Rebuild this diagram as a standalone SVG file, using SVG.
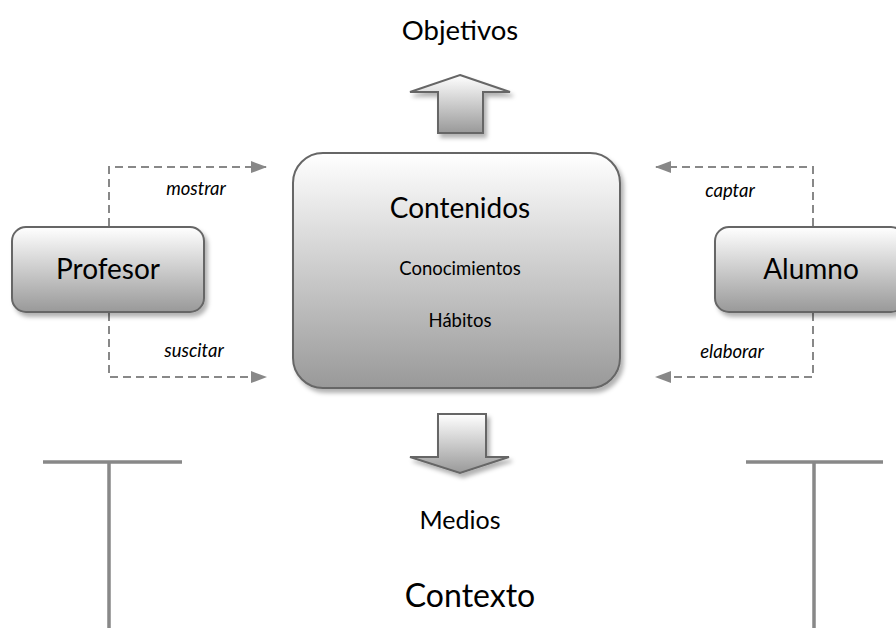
<svg xmlns="http://www.w3.org/2000/svg" width="896" height="628" viewBox="0 0 896 628">
<defs>
<linearGradient id="g" x1="0" y1="0" x2="0" y2="1">
<stop offset="0" stop-color="#ffffff"/>
<stop offset="1" stop-color="#999999"/>
</linearGradient>
<filter id="sh" x="-10%" y="-10%" width="130%" height="130%">
<feDropShadow dx="3" dy="4" stdDeviation="2" flood-color="#000" flood-opacity="0.3"/>
</filter>
<marker id="ah" viewBox="0 0 16 12" refX="15" refY="6" markerWidth="16" markerHeight="12" markerUnits="userSpaceOnUse" orient="auto">
<path d="M0,0 L16,6 L0,12 Z" fill="#888"/>
</marker>
<style>
.box{fill:url(#g);stroke:#666;stroke-width:2;filter:url(#sh)}
.big{font-family:Lato,"Liberation Sans",sans-serif;fill:#000;text-anchor:middle}
.lbl{font-family:Lato,"Liberation Sans",sans-serif;font-style:italic;font-size:18.5px;fill:#000;text-anchor:middle}
.dash{fill:none;stroke:#888;stroke-width:2;stroke-dasharray:8,5}
.t{stroke:#888;stroke-width:3.5;fill:none}
</style>
</defs>
<rect width="896" height="628" fill="#fff"/>
<g id="connectors">
<path class="dash" d="M109,226 V167 H266" marker-end="url(#ah)"/>
<path class="dash" d="M109,313 V377 H266" marker-end="url(#ah)"/>
<path class="dash" d="M813,226 V167 H656" marker-end="url(#ah)"/>
<path class="dash" d="M813,313 V377 H656" marker-end="url(#ah)"/>
<path id="arrow-up" class="box" d="M460,75 L510,92 L483,92 L483,133 L438,133 L438,92 L410,92 Z"/>
<path id="arrow-down" class="box" d="M438,414 L486,414 L486,457 L509,457 L460,473 L410,457 L438,457 Z"/>
</g>
<g id="objetivos"><text class="big" x="460" y="40" font-size="27.5">Objetivos</text></g>
<g id="contenidos">
<rect class="box" x="293" y="153" width="327" height="235" rx="30"/>
<text class="big" x="460" y="218" font-size="28">Contenidos</text>
<text class="big" x="460" y="275" font-size="18.5">Conocimientos</text>
<text class="big" x="460" y="327" font-size="18.5">Hábitos</text>
</g>
<g id="profesor">
<rect class="box" x="12" y="227" width="192" height="85" rx="14"/>
<text class="big" x="108" y="279" font-size="28">Profesor</text>
</g>
<g id="alumno">
<rect class="box" x="715" y="227" width="190" height="85" rx="14"/>
<text class="big" x="811" y="279" font-size="28">Alumno</text>
</g>
<g id="labels">
<text class="lbl" x="196" y="195">mostrar</text>
<text class="lbl" x="194" y="357">suscitar</text>
<text class="lbl" x="730" y="197">captar</text>
<text class="lbl" x="732" y="358">elaborar</text>
</g>
<g id="medios"><text class="big" x="460" y="529" font-size="25">Medios</text></g>
<g id="contexto">
<text class="big" x="470" y="607" font-size="32">Contexto</text>
<path class="t" d="M43,462 H182 M109,462 V628"/>
<path class="t" d="M746,462 H883 M814,462 V628"/>
</g>
</svg>
